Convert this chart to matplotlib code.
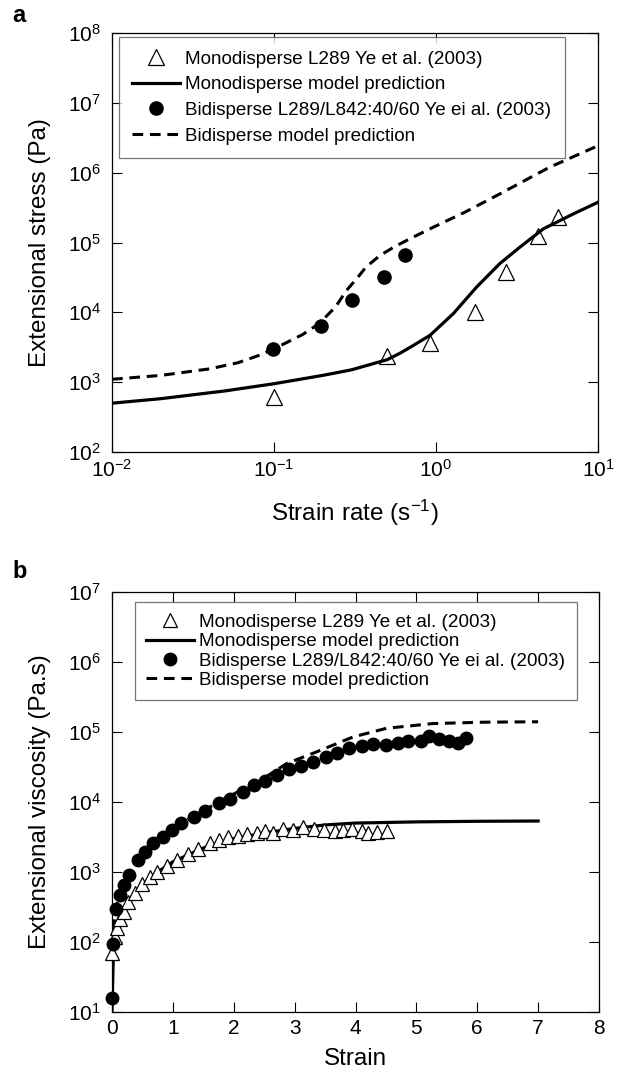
import matplotlib
matplotlib.use('Agg')
import matplotlib.pyplot as plt
from matplotlib.ticker import LogLocator, NullLocator

plt.rcParams['font.family'] = ['Liberation Sans', 'DejaVu Sans']
plt.rcParams['mathtext.default'] = 'regular'

# ---- panel a: stress vs strain rate ----
a_mono_rate = [0.1, 0.5, 0.92, 1.74, 2.69, 4.28, 5.64]
a_mono_stress = [610, 2400, 3600, 10100, 37700, 122000, 230000]

a_bi_rate = [0.098, 0.195, 0.304, 0.475, 0.644]
a_bi_stress = [3000, 6300, 14800, 31900, 66700]

a_mono_model_rate = [0.01, 0.02, 0.05, 0.1, 0.2, 0.3, 0.5, 0.6, 0.7, 0.92, 1.28,
                     1.78, 2.48, 3.3, 4.6, 7.05, 10]
a_mono_model_stress = [500, 580, 750, 950, 1250, 1500, 2100, 2600, 3200, 4700, 9600,
                       23000, 50000, 86000, 157000, 257000, 377000]

a_bi_model_rate = [0.01, 0.02, 0.04, 0.06, 0.08, 0.1, 0.15, 0.19, 0.24, 0.28, 0.33,
                   0.37, 0.45, 0.55, 0.7, 0.96, 1.5, 2.48, 5.0, 10]
a_bi_model_stress = [1100, 1250, 1550, 1900, 2400, 3000, 4800, 6900, 12000, 20500, 32000,
                     44600, 65000, 86000, 115000, 165000, 270000, 497000, 1190000, 2430000]

# ---- panel b: viscosity vs strain ----
b_mono_strain = [0.005, 0.05, 0.08, 0.13, 0.19, 0.27, 0.37, 0.50, 0.62, 0.74, 0.90,
                 1.06, 1.25, 1.42, 1.61, 1.76, 1.91, 2.07, 2.21, 2.38, 2.51, 2.65,
                 2.81, 2.98, 3.14, 3.32, 3.48, 3.66, 3.80, 3.95, 4.10, 4.20, 4.35, 4.52]
b_mono_visc = [69, 119, 157, 210, 270, 377, 497, 670, 855, 1010, 1220,
               1480, 1810, 2100, 2580, 2870, 3150, 3270, 3490, 3610, 3870, 3610,
               4100, 3980, 4440, 4100, 3980, 3870, 3980, 4100, 3870, 3610, 3780, 3870]

b_bi_strain = [0.005, 0.02, 0.06, 0.13, 0.19, 0.28, 0.43, 0.54, 0.68, 0.84, 0.98,
               1.14, 1.34, 1.53, 1.75, 1.94, 2.16, 2.33, 2.51, 2.71, 2.91, 3.10,
               3.30, 3.52, 3.69, 3.90, 4.10, 4.28, 4.50, 4.69, 4.86, 5.08, 5.20,
               5.37, 5.54, 5.69, 5.82]
b_bi_visc = [15.7, 95, 300, 470, 650, 900, 1480, 1950, 2580, 3170, 3980,
             4980, 6050, 7530, 9770, 10900, 14000, 17500, 20000, 24400, 29400, 32600,
             37800, 44400, 50000, 58800, 63100, 67000, 65000, 70000, 74000, 75000, 87000,
             79000, 74000, 70000, 81000]

b_mono_model_strain = [0, 0.02, 0.05, 0.1, 0.2, 0.3, 0.5, 0.75, 1.0, 1.5, 2.0, 2.5,
                       3.0, 3.5, 4.0, 5.0, 6.0, 7.0]
b_mono_model_visc = [10, 60, 110, 170, 280, 400, 640, 1000, 1400, 2200, 3000, 3600,
                     4200, 4700, 5000, 5200, 5300, 5350]

b_bi_model_strain = [0, 0.02, 0.05, 0.1, 0.2, 0.3, 0.5, 0.75, 1.0, 1.25, 1.5, 1.75,
                     2.0, 2.25, 2.5, 2.87, 3.36, 3.96, 4.51, 5.27, 6.09, 7.0]
b_bi_model_visc = [15, 100, 250, 420, 700, 950, 1700, 2800, 4000, 5600, 7500, 10000,
                   13000, 17000, 22000, 35500, 52000, 85000, 113000, 132000, 138000, 140000]

labels = ['Monodisperse L289 Ye et al. (2003)',
          'Monodisperse model prediction',
          'Bidisperse L289/L842:40/60 Ye ei al. (2003)',
          'Bidisperse model prediction']

fig = plt.figure(figsize=(6.34, 10.82), dpi=100)
ax_a = fig.add_axes([112/634, 1 - 452/1082, 486/634, 419/1082])
ax_b = fig.add_axes([112/634, 1 - 1012/1082, 487/634, 420/1082])


def style_axis(ax):
    ax.tick_params(which='both', direction='in', top=True, right=True,
                   labelsize=15, width=0.8, length=7)
    ax.tick_params(axis='x', pad=5)
    ax.tick_params(axis='y', pad=8)
    for sp in ax.spines.values():
        sp.set_linewidth(0.9)


def make_legend(ax, handles, anchor, spacing, pad):
    leg = ax.legend(handles, labels, loc='upper left', bbox_to_anchor=anchor,
                    borderaxespad=0, fontsize=13.6, frameon=True, fancybox=False,
                    edgecolor='#555555', handlelength=2.55, handletextpad=0.27,
                    labelspacing=spacing, borderpad=pad)
    leg.get_frame().set_linewidth(0.9)
    return leg


# panel a
h1, = ax_a.plot(a_mono_rate, a_mono_stress, '^', ms=11, mfc='white', mec='black',
                mew=0.9, ls='none')
h2, = ax_a.plot(a_mono_model_rate, a_mono_model_stress, '-', color='black', lw=2.3)
h3, = ax_a.plot(a_bi_rate, a_bi_stress, 'o', ms=9.5, color='black', ls='none')
h4, = ax_a.plot(a_bi_model_rate, a_bi_model_stress, '--', color='black', lw=2.2,
                dashes=(3.5, 2.2))
ax_a.set_xscale('log')
ax_a.set_yscale('log')
ax_a.set_xlim(1e-2, 1e1)
ax_a.set_ylim(1e2, 1e8)
ax_a.xaxis.set_major_locator(LogLocator(base=10, numticks=10))
ax_a.yaxis.set_major_locator(LogLocator(base=10, numticks=10))
ax_a.xaxis.set_minor_locator(NullLocator())
ax_a.yaxis.set_minor_locator(NullLocator())
style_axis(ax_a)
ax_a.set_xlabel('Strain rate (s$^{-1}$)', fontsize=17.5, labelpad=12)
ax_a.set_ylabel('Extensional stress (Pa)', fontsize=17.5, labelpad=12)
make_legend(ax_a, [h1, h2, h3, h4], (0.014, 0.99), 0.45, 0.7)

# panel b
g1, = ax_b.plot(b_mono_strain, b_mono_visc, '^', ms=10, mfc='white', mec='black',
                mew=0.9, ls='none', zorder=4, clip_on=False)
g2, = ax_b.plot(b_mono_model_strain, b_mono_model_visc, '-', color='black', lw=2.3,
                zorder=3)
g3, = ax_b.plot(b_bi_strain, b_bi_visc, 'o', ms=9, color='black', ls='none',
                zorder=4, clip_on=False)
g4, = ax_b.plot(b_bi_model_strain, b_bi_model_visc, '--', color='black', lw=2.2,
                dashes=(3.5, 2.2), zorder=3)
ax_b.set_yscale('log')
ax_b.set_xlim(0, 8)
ax_b.set_ylim(1e1, 1e7)
ax_b.set_xticks(range(0, 9))
ax_b.yaxis.set_major_locator(LogLocator(base=10, numticks=10))
ax_b.yaxis.set_minor_locator(NullLocator())
style_axis(ax_b)
ax_b.set_xlabel('Strain', fontsize=17.5, labelpad=7)
ax_b.set_ylabel('Extensional viscosity (Pa.s)', fontsize=17.5, labelpad=12)
make_legend(ax_b, [g1, g2, g3, g4], (0.047, 0.976), 0.12, 0.6)

fig.text(12/634, 1 - 16/1082, 'a', fontsize=17, fontweight='bold', va='center')
fig.text(12/634, 1 - 572/1082, 'b', fontsize=17, fontweight='bold', va='center')

fig.savefig('out.png', dpi=100)
